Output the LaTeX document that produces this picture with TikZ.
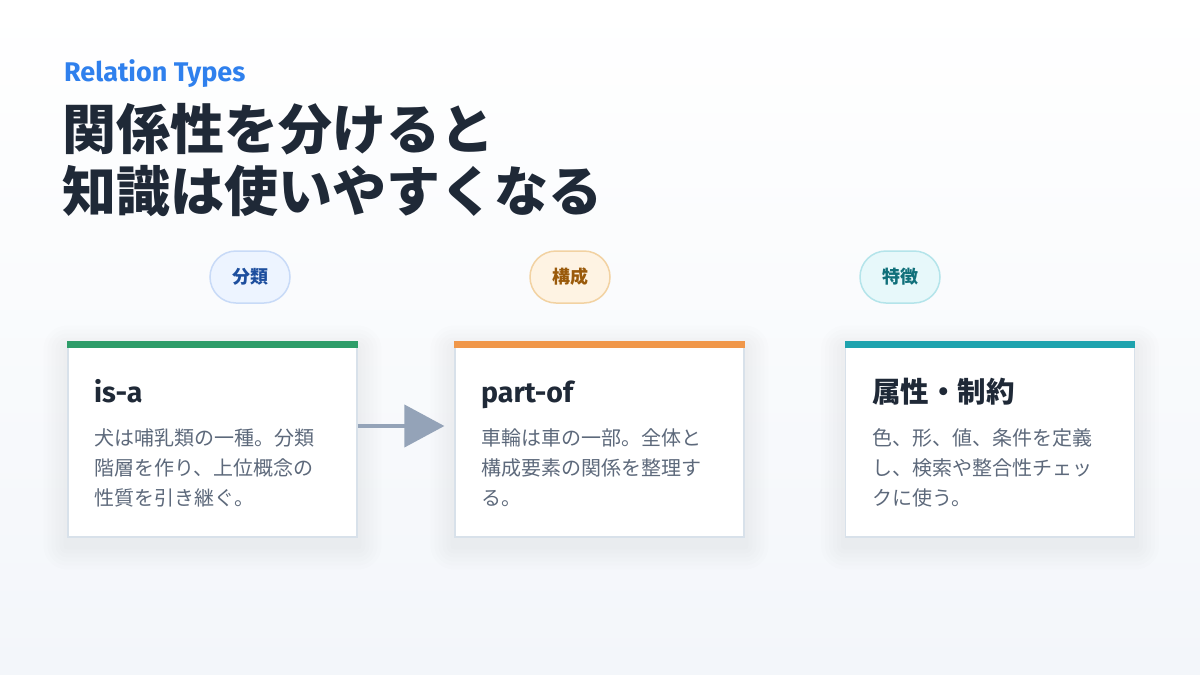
\documentclass[tikz,border=0pt]{standalone}
\usepackage{fontspec}
\setmainfont{Noto Sans CJK JP}
\newfontfamily\latinfont{Fira Sans}
\usepackage{tikz}
\usetikzlibrary{arrows.meta, positioning, calc}

\definecolor{bgbottom}{HTML}{F3F6FA}
\definecolor{accentblue}{HTML}{2F80ED}
\definecolor{ink}{HTML}{1F2937}
\definecolor{bodytext}{HTML}{5D697B}
\definecolor{cardline}{HTML}{D8E1EA}
\definecolor{arrowgray}{HTML}{94A3B8}
\definecolor{bargreen}{HTML}{2E9D69}
\definecolor{barorange}{HTML}{F0974A}
\definecolor{barteal}{HTML}{1FA3AE}
\definecolor{tagbluefill}{HTML}{EDF4FF}
\definecolor{tagblueline}{HTML}{C8DAF7}
\definecolor{tagbluetext}{HTML}{1D4E9E}
\definecolor{tagorangefill}{HTML}{FEF3E3}
\definecolor{tagorangeline}{HTML}{F2D2A2}
\definecolor{tagorangetext}{HTML}{9A5A0B}
\definecolor{tagtealfill}{HTML}{E7F8FA}
\definecolor{tagtealline}{HTML}{B4E4EA}
\definecolor{tagtealtext}{HTML}{10707A}

\pgfdeclarelayer{bgfill}
\pgfdeclarelayer{shade}
\pgfsetlayers{bgfill,shade,main}

\begin{document}
\begin{tikzpicture}[x=1pt, y=-1pt,
  tagpill/.style={draw, line width=1.5pt, rounded corners=26pt, minimum width=80pt, minimum height=52pt, inner sep=0pt, font=\fontsize{18}{20}\selectfont\bfseries},
  card/.style={draw=cardline, line width=1.2pt, fill=white, minimum width=289pt, minimum height=195pt, inner sep=0pt},
  cardtitle/.style={anchor=base west, inner sep=0pt, text=ink, font=\fontsize{28.5}{30}\selectfont\bfseries},
  cardbody/.style={anchor=north west, inner sep=0pt, align=left, text=bodytext, font=\fontsize{20}{30}\selectfont},
  linkarrow/.style={draw=arrowgray, line width=4pt, -{Triangle[length=40pt, width=42pt]}}
]
% Background
\useasboundingbox (0,0) rectangle (1200,675);
\begin{pgfonlayer}{bgfill}
\fill[top color=white, bottom color=bgbottom] (0,0) rectangle (1200,675);
\end{pgfonlayer}

% Heading
\node[anchor=base west, inner sep=0pt, text=accentblue, font=\latinfont\fontsize{27}{30}\selectfont\bfseries] (kicker) at (64, 81) {Relation Types};
\node[anchor=north west, inner sep=0pt, align=left, text=ink, font=\fontsize{54}{62}\selectfont\bfseries] (headline) at (62, 103) {関係性を分けると\\知識は使いやすくなる};

% Tags
\node[tagpill, fill=tagbluefill, draw=tagblueline, text=tagbluetext] (tagClass) at (250, 277) {分類};
\node[tagpill, fill=tagorangefill, draw=tagorangeline, text=tagorangetext] (tagPart) at (570, 277) {構成};
\node[tagpill, fill=tagtealfill, draw=tagtealline, text=tagtealtext] (tagAttr) at (900, 277) {特徴};

% Cards
\node[card] (isaCard) at (212.5, 439.5) {};
\fill[bargreen] (isaCard.north west) rectangle ([yshift=-7pt]isaCard.north east);
\node[cardtitle] (isaTitle) at (94, 402) {\latinfont is-a};
\node[cardbody] (isaBody) at (94, 428) {犬は哺乳類の一種。分類\\階層を作り、上位概念の\\性質を引き継ぐ。};

\node[card] (partCard) at (599.5, 439.5) {};
\fill[barorange] (partCard.north west) rectangle ([yshift=-7pt]partCard.north east);
\node[cardtitle] (partTitle) at (481, 402) {\latinfont part-of};
\node[cardbody] (partBody) at (481, 428) {車輪は車の一部。全体と\\構成要素の関係を整理す\\る。};

\node[card] (attrCard) at (990, 439.5) {};
\fill[barteal] (attrCard.north west) rectangle ([yshift=-7pt]attrCard.north east);
\node[cardtitle] (attrTitle) at (872, 402) {属性・制約};
\node[cardbody] (attrBody) at (872, 428) {色、形、値、条件を定義\\し、検索や整合性チェッ\\クに使う。};

% Soft shadows under the cards
\begin{pgfonlayer}{shade}
\foreach \c in {isaCard, partCard, attrCard}
  \foreach \r in {4,8,...,24}
    \fill[black, opacity=0.008, rounded corners=\r pt]
      ([xshift=-\r pt, yshift={-\r pt-8pt}]\c.south west) rectangle ([xshift=\r pt, yshift={\r pt-8pt}]\c.north east);
\end{pgfonlayer}

% Arrow
\draw[linkarrow, shorten >=10pt] ([yshift=13.5pt]isaCard.east) -- ([yshift=13.5pt]partCard.west);
\end{tikzpicture}
\end{document}
